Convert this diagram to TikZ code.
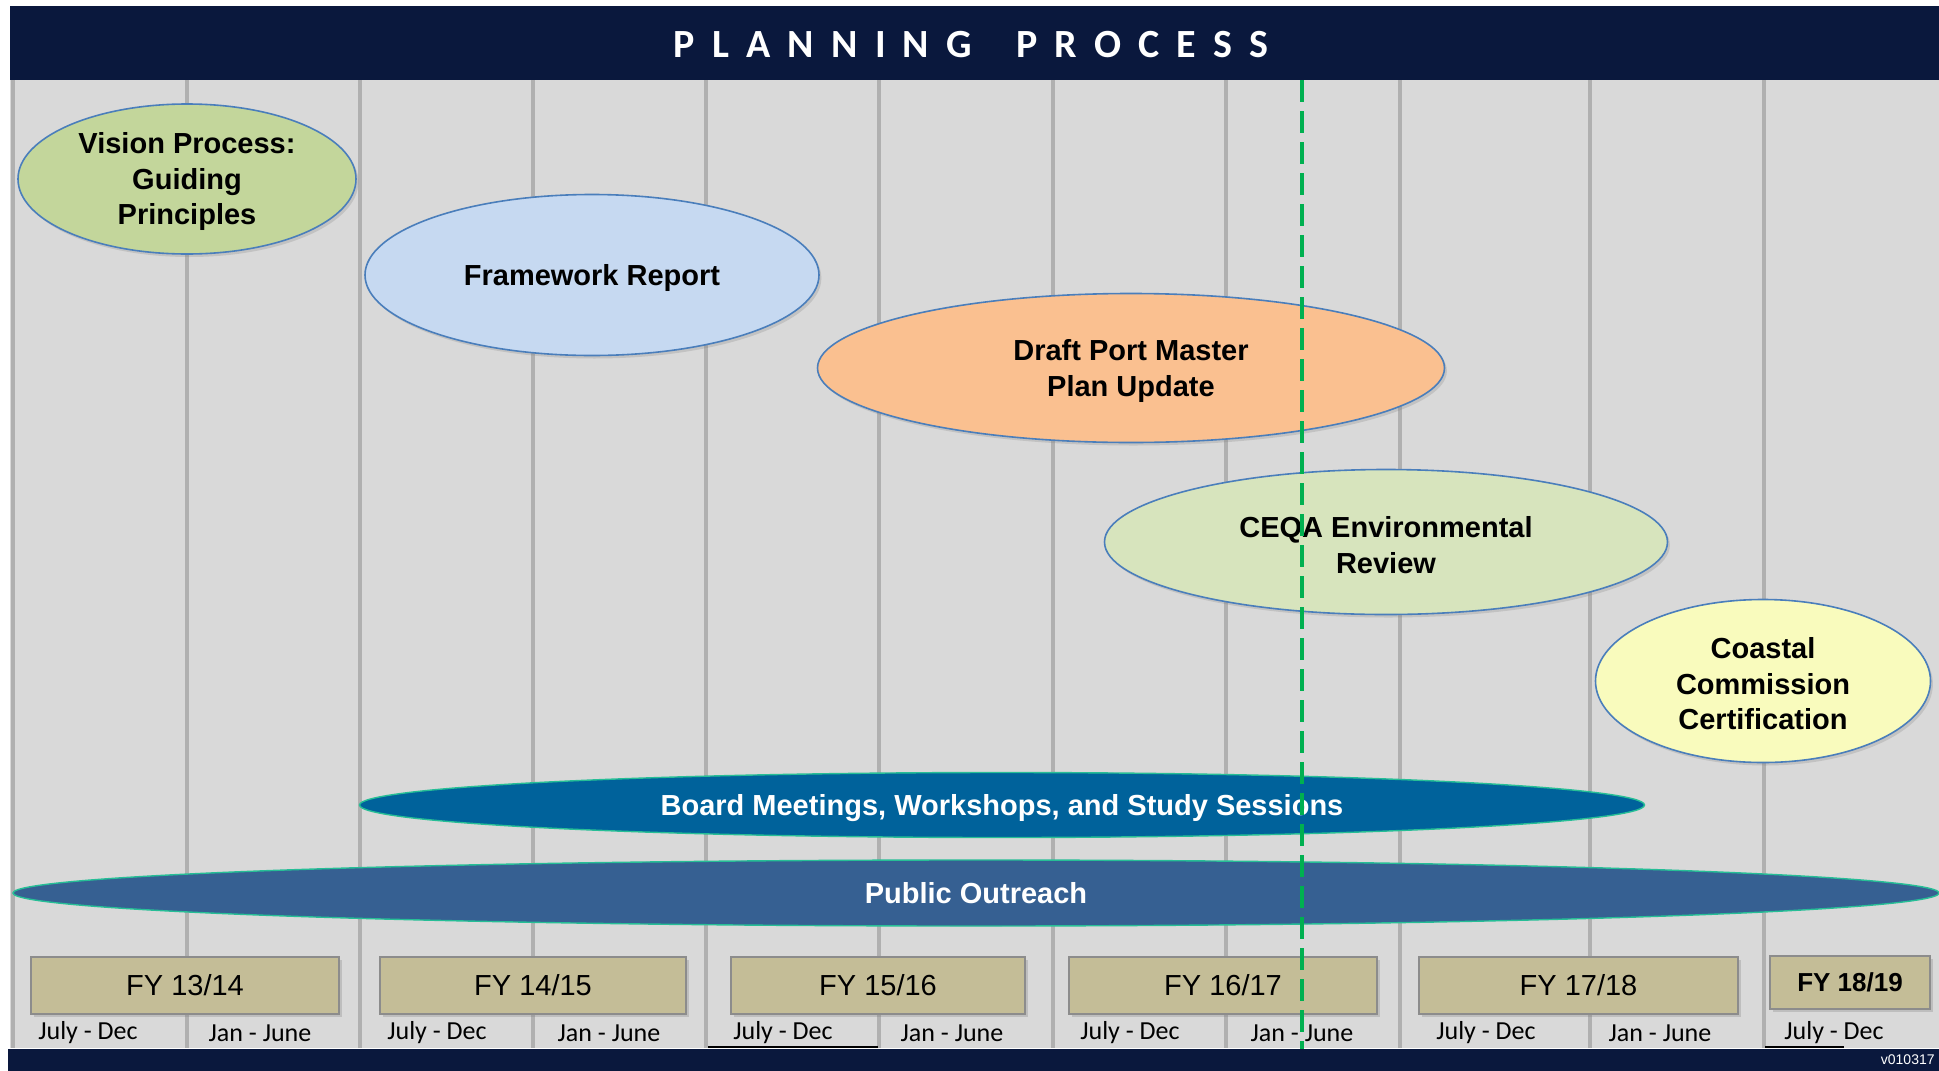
\documentclass[tikz,border=0pt]{standalone}
\usepackage{fontspec}
\setmainfont{Liberation Sans}
\newfontfamily\calibri{Carlito}
\newfontfamily\titlefont{Carlito}[LetterSpace=43]
\usetikzlibrary{shapes.geometric,shadows}
\definecolor{navy}{RGB}{10,24,61}
\definecolor{bggray}{RGB}{217,217,217}
\definecolor{gridgray}{RGB}{176,176,176}
\definecolor{rimblue}{RGB}{74,126,187}
\definecolor{visiongreen}{RGB}{195,214,155}
\definecolor{frameblue}{RGB}{198,217,241}
\definecolor{draftorange}{RGB}{250,192,144}
\definecolor{ceqagreen}{RGB}{215,228,189}
\definecolor{coastyellow}{RGB}{249,251,189}
\definecolor{boardblue}{RGB}{0,98,155}
\definecolor{outreachblue}{RGB}{54,96,146}
\definecolor{rimteal}{RGB}{38,190,150}
\definecolor{fytan}{RGB}{196,189,151}
\definecolor{fyrim}{RGB}{140,140,140}
\definecolor{nowgreen}{RGB}{0,176,80}

\newcommand{\toplift}{\rule{0pt}{13.5pt}}

\tikzset{
  phase/.style={ellipse, draw=rimblue, line width=0.8pt, inner sep=0pt, align=center,
    font=\fontsize{14.5}{17.75}\selectfont\bfseries,
    drop shadow={shadow xshift=1.2pt, shadow yshift=-1.5pt, opacity=0.25}},
  band/.style={ellipse, draw=rimteal, line width=0.7pt, inner sep=0pt, text=white,
    font=\fontsize{14.5}{17.75}\selectfont\bfseries},
  fybox/.style={rectangle, draw=fyrim, line width=1pt, fill=fytan, inner sep=0pt,
    minimum height=28.5pt, font=\fontsize{14.5}{17}\selectfont,
    drop shadow={shadow xshift=1.5pt, shadow yshift=-1.5pt, opacity=0.3}},
  half/.style={inner sep=0pt, font=\calibri\fontsize{13}{15}\selectfont},
  gridline/.style={draw=gridgray, line width=1.6pt},
}

\begin{document}
\begin{tikzpicture}[x=0.5pt, y=-0.5pt]
    \useasboundingbox (0,0) rectangle (1939,1071);

    % background and columns
    \fill[bggray] (10,80) rectangle (1939,1048);
    \foreach \x in {13,187,360,533,706,879,1053,1226,1400,1590,1764}
        \draw[gridline] (\x,80) -- (\x,1048);

    % phases
    \node[phase, fill=visiongreen, minimum width=169pt, minimum height=75pt] (vision) at (187,179) {\toplift Vision Process:\\Guiding\\Principles};
    \node[phase, fill=frameblue, minimum width=227pt, minimum height=80.5pt] (framework) at (592,275) {\toplift Framework Report};
    \node[phase, fill=draftorange, minimum width=313.5pt, minimum height=74.5pt] (draft) at (1131,368) {\toplift Draft Port Master\\Plan Update};
    \node[phase, fill=ceqagreen, minimum width=281.5pt, minimum height=72.5pt] (ceqa) at (1386,542) {\toplift CEQA Environmental\\Review};
    \node[phase, fill=coastyellow, minimum width=167.5pt, minimum height=81.5pt] (coastal) at (1763,681) {\toplift Coastal\\Commission\\Certification};

    \node[band, fill=boardblue, minimum width=642.5pt, minimum height=32.5pt] (board) at (1002,805) {\toplift Board Meetings, Workshops, and Study Sessions};
    \node[band, fill=outreachblue, minimum width=963pt, minimum height=33pt] (outreach) at (976,893) {Public Outreach};

    % fiscal years
    \node[fybox, minimum width=154pt] (fy1314) at (185,985.5) {FY 13/14};
    \node[fybox, minimum width=153pt] (fy1415) at (533,985.5) {FY 14/15};
    \node[fybox, minimum width=147pt] (fy1516) at (878,985.5) {FY 15/16};
    \node[fybox, minimum width=154pt] (fy1617) at (1223,985.5) {FY 16/17};
    \node[fybox, minimum width=159.5pt] (fy1718) at (1578.5,985.5) {FY 17/18};
    \node[fybox, minimum width=80pt, minimum height=26.5pt, font=\fontsize{13}{15}\selectfont\bfseries] (fy1819) at (1850,982.5) {FY 18/19};

    \foreach \x/\t [count=\i] in {88/July - Dec, 260/Jan - June, 437/July - Dec, 609/Jan - June,
        783/July - Dec, 952/Jan - June, 1130/July - Dec, 1302/Jan - June,
        1486/July - Dec, 1660/Jan - June, 1834/July - Dec}
        \node[half] (half\i) at (\x,1033) {\t};
    \draw[black, line width=0.8pt] (708,1047) -- (878,1047);
    \draw[black, line width=0.8pt] (1765,1047) -- (1844,1047);

    % today
    \coordinate (now top) at (1302,80);
    \coordinate (now bot) at (1302,1049);
    \draw[nowgreen, line width=2pt, dash pattern=on 11pt off 4.5pt] (now top) -- (now bot);

    % title and footer bars
    \fill[navy] (10,6) rectangle (1939,80);
    \node[text=white, inner sep=0pt, font=\titlefont\bfseries\fontsize{20}{24}\selectfont] (title) at (971,44.5) {PLANNING\hspace{9pt} PROCESS};
    \fill[navy] (8,1049) rectangle (1939,1071);
    \node[anchor=east, inner sep=0pt, text=white, font=\fontsize{7}{8}\selectfont] (version) at (1935,1060) {v010317};
\end{tikzpicture}
\end{document}
